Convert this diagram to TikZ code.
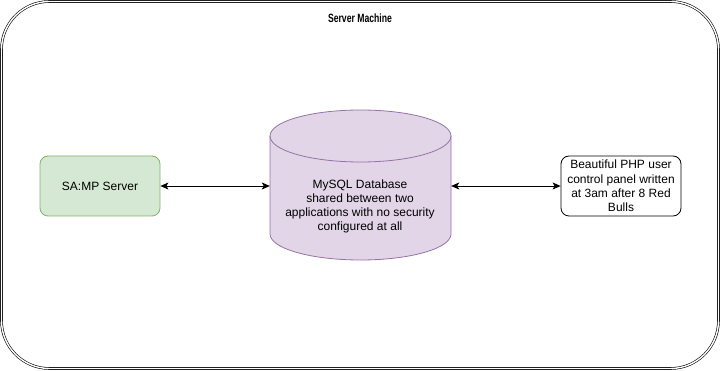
\documentclass[tikz,border=0pt]{standalone}
\usepackage{fontspec}
\setmainfont{Liberation Sans}
\newfontfamily\titlefont[FakeStretch=0.72]{Liberation Sans Bold}
\usetikzlibrary{arrows.meta,positioning}
\definecolor{sampfill}{HTML}{D5E8D4}
\definecolor{sampline}{HTML}{82B366}
\definecolor{dbfill}{HTML}{E1D5E7}
\definecolor{dbline}{HTML}{9673A6}
\tikzset{
frame/.style={
  rectangle,draw,double,line width=.6pt,double distance=1.4pt,
  rounded corners=48pt,minimum width=717pt,minimum height=367pt
},
appbox/.style={
  rectangle,draw,rounded corners=8pt,line width=.8pt,
  minimum width=120pt,minimum height=60pt,align=center,
  font=\fontsize{12}{14.4}\selectfont
},
dbarea/.style={rectangle,minimum width=181pt,minimum height=150pt,inner sep=0pt},
dbshape/.style={draw=dbline,fill=dbfill,line width=.8pt},
link/.style={{Stealth[length=8pt,width=7pt,inset=2pt]}-{Stealth[length=8pt,width=7pt,inset=2pt]},line width=.8pt}
}

\begin{document}
\begin{tikzpicture}[x=1pt,y=-1pt]
\useasboundingbox (0,0) rectangle (721,371);
% the machine frame and its title
\node[frame] (machine) at (360,185) {};
\node[font=\titlefont\fontsize{12}{14}\selectfont] (title) at (360,18) {Server Machine};
% the database cylinder
\node[dbarea] (db) at (360.5,185) {};
\draw[dbshape] (270,136) -- (270,234)
  arc[start angle=180,end angle=0,x radius=90.5,y radius=26]
  -- (451,136)
  arc[start angle=360,end angle=180,x radius=90.5,y radius=26] -- cycle;
\draw[dbline,line width=.8pt] (270,136)
  arc[start angle=180,end angle=0,x radius=90.5,y radius=26];
\node[align=center,font=\fontsize{12}{14}\selectfont] (dbtext) at (360,206)
  {MySQL Database\\shared between two\\applications with no security\\configured at all};
% the two applications
\node[appbox,draw=sampline,fill=sampfill] (samp) at (100,186) {SA:MP Server};
\node[appbox,fill=white] (panel) at (621,186)
  {Beautiful PHP user\\control panel written\\at 3am after 8 Red\\Bulls};
% the links
\draw[link] (samp) -- (samp -| db.west);
\draw[link] (db.east |- panel) -- (panel);
\end{tikzpicture}
\end{document}
